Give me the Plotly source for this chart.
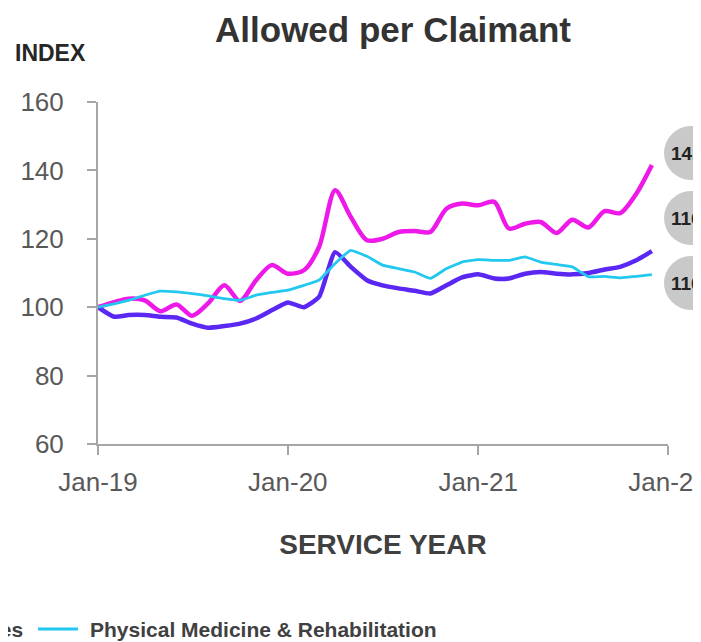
import pandas as pd
import plotly.graph_objects as go

# monthly service months, Jan-19 .. Dec-21
months = pd.date_range("2019-01-01", periods=36, freq="MS")

chiro = [100, 101.5, 102.5, 102, 98.8, 100.8, 97.5, 101.2, 106.4, 101.8, 107.9, 112.3,
         109.8, 110.8, 117.6, 134.2, 126.4, 119.6, 120, 122, 122.3, 122, 128.8, 130.3,
         129.8, 130.8, 123, 124.4, 124.9, 121.7, 125.6, 123.3, 128.1, 127.5, 133.2, 141.6]
all_services = [100, 97.2, 97.7, 97.7, 97.2, 97, 95.2, 94, 94.5, 95.2, 96.7, 99.1,
                101.4, 100, 103, 116.1, 111.8, 107.9, 106.4, 105.5, 104.8, 104, 106.4, 108.7,
                109.6, 108.4, 108.4, 109.8, 110.3, 109.8, 109.6, 110, 111, 111.8, 113.7, 116.4]
pmr = [100, 101, 102, 103.5, 104.7, 104.5, 104, 103.3, 102.5, 102, 103.5, 104.3,
       105, 106.4, 107.9, 112.8, 116.6, 114.9, 112.3, 111.3, 110.3, 108.4, 111.3, 113.2,
       113.9, 113.7, 113.7, 114.7, 113.2, 112.5, 111.8, 108.9, 109, 108.6, 109, 109.5]

tick_dates = ["2019-01-01", "2020-01-01", "2021-01-01", "2022-01-01"]
tick_text = ["Jan-19", "Jan-20", "Jan-21", "Jan-22"]

series_names = ["Chiropractic Services", "All Services", "Physical Medicine & Rehabilitation"]
series_colors = ["#EE18E8", "#5A28F2", "#22C8F0"]
end_labels = [round(chiro[-1]), round(all_services[-1]), round(pmr[-1])]

FONT = "Liberation Sans, Arial, sans-serif"
AXIS_GREY = "#A6A6A6"

# page body has an 8px margin, so work in window pixels and shift back;
# figure is shrunk so it ends exactly at the window edge (no scrollbars)
OFF = 8

fig = go.Figure()

fig.add_trace(go.Scatter(
    x=months, y=chiro, name=series_names[0], mode="lines",
    line=dict(color=series_colors[0], width=4.5, shape="spline", smoothing=0.8),
    showlegend=False
))
fig.add_trace(go.Scatter(
    x=months, y=all_services, name=series_names[1], mode="lines",
    line=dict(color=series_colors[1], width=4.5, shape="spline", smoothing=0.5),
    showlegend=False
))
fig.add_trace(go.Scatter(
    x=months, y=pmr, name=series_names[2], mode="lines",
    line=dict(color=series_colors[2], width=2.8, shape="spline", smoothing=0.3),
    showlegend=False
))

# plot area in window pixels: x 98..668, y 102..444
L, R, T, B = 98, 668, 102, 444
W, H = R - L, B - T
FIG_W, FIG_H = 701 - OFF, 642 - OFF


def px(x):
    return (x - L) / W


def py(y):
    return (B - y) / H


shapes = []
annotations = []

# end-of-line value bubbles (cut by the right edge)
for cy, val in zip([153, 218, 283], end_labels):
    r = 27
    shapes.append(dict(type="circle", xref="paper", yref="paper",
                       x0=px(691 - r), x1=px(691 + r), y0=py(cy + r), y1=py(cy - r),
                       fillcolor="#C9C9C9", line=dict(width=0), layer="above"))
    annotations.append(dict(xref="paper", yref="paper", x=px(669), y=py(cy),
                            xanchor="left", yanchor="middle", showarrow=False,
                            text=f"<b>{val}</b>",
                            font=dict(family=FONT, size=19, color="#222222")))

# legend row (left part falls outside the picture)
leg_y = py(629)
swatch_x = [-262, -145, 38]
for sx, col in zip(swatch_x, series_colors):
    shapes.append(dict(type="line", xref="paper", yref="paper",
                       x0=px(sx), x1=px(sx + 40), y0=leg_y, y1=leg_y,
                       line=dict(color=col, width=3)))
annotations.append(dict(xref="paper", yref="paper", x=px(25), y=leg_y,
                        xanchor="right", yanchor="middle", showarrow=False,
                        text=f"<b>{series_names[1]}</b>",
                        font=dict(family=FONT, size=21, color="#404040")))
annotations.append(dict(xref="paper", yref="paper", x=px(88), y=leg_y,
                        xanchor="left", yanchor="middle", showarrow=False,
                        text=f"<b>{series_names[2]}</b>",
                        font=dict(family=FONT, size=21, color="#404040")))

annotations.append(dict(xref="paper", yref="paper", x=px(51), y=py(53),
                        xanchor="center", yanchor="middle", showarrow=False,
                        text="<b>INDEX</b>",
                        font=dict(family=FONT, size=23, color="#262626")))

fig.update_layout(
    width=FIG_W, height=FIG_H,
    paper_bgcolor="white", plot_bgcolor="white",
    margin=dict(l=L - OFF, r=FIG_W - (R - OFF), t=T - OFF, b=FIG_H - (B - OFF),
                autoexpand=False),
    title=dict(text="<b>Allowed per Claimant</b>", x=(393 - OFF) / FIG_W, xanchor="center",
               y=1 - (30 - OFF) / FIG_H, yanchor="middle",
               font=dict(family=FONT, size=35, color="#333333")),
    xaxis=dict(
        range=["2019-01-01", "2022-01-01"],
        tickvals=tick_dates, ticktext=tick_text,
        ticks="outside", ticklen=9, tickwidth=2, tickcolor=AXIS_GREY,
        showline=True, linecolor=AXIS_GREY, linewidth=2,
        showgrid=False, zeroline=False,
        tickfont=dict(family=FONT, size=26, color="#595959"),
        ticklabelstandoff=5, ticklabeloverflow="allow",
        title=dict(text="<b>SERVICE YEAR</b>", standoff=38,
                   font=dict(family=FONT, size=28, color="#404040")),
    ),
    yaxis=dict(
        range=[60, 160], dtick=20,
        ticks="outside", ticklen=9, tickwidth=2, tickcolor=AXIS_GREY,
        showline=True, linecolor=AXIS_GREY, linewidth=2,
        showgrid=False, zeroline=False,
        tickfont=dict(family=FONT, size=26, color="#595959"),
        ticklabelstandoff=18,
    ),
    shapes=shapes,
    annotations=annotations,
)

fig.write_html("out.html")
